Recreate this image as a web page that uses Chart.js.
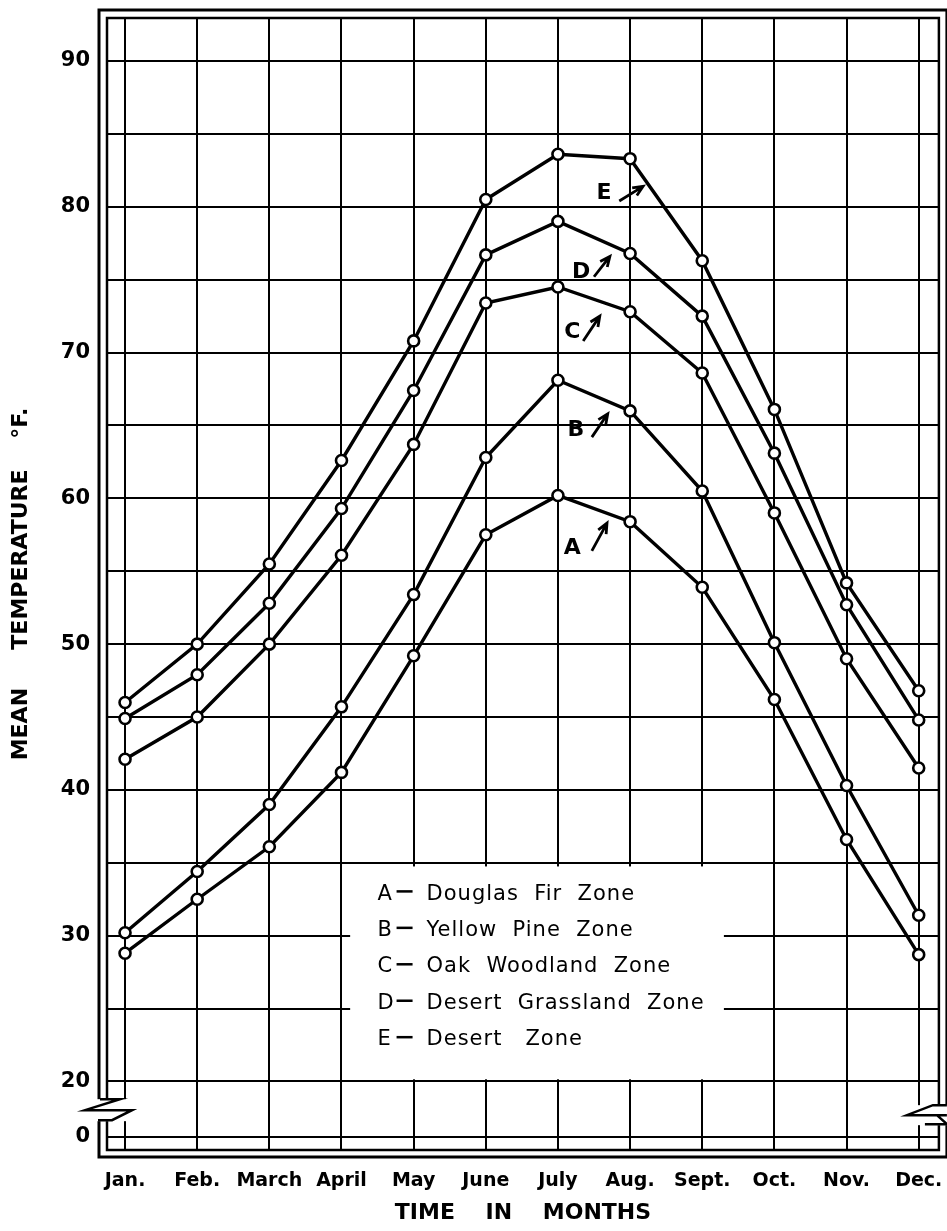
<!DOCTYPE html>
<html lang="en">
<head>
    <meta charset="UTF-8">
    <title>Mean Temperature by Vegetation Zone</title>
    <style>
        body { margin: 0; background: #fff; }
        #wrap { width: 947px; height: 1231px; position: relative; }
    </style>
    <script src="https://cdn.jsdelivr.net/npm/chart.js@4"></script>
</head>
<body>
    <div id="wrap"><canvas id="tempChart"></canvas></div>

    <script>
        // month labels on the x axis
        const months = ['Jan.', 'Feb.', 'March', 'April', 'May', 'June', 'July', 'Aug.', 'Sept.', 'Oct.', 'Nov.', 'Dec.'];

        // mean temperature, deg F
        const douglasFir      = [28.8, 32.5, 36.1, 41.2, 49.2, 57.5, 60.2, 58.4, 53.9, 46.2, 36.6, 28.7];
        const yellowPine      = [30.2, 34.4, 39.0, 45.7, 53.4, 62.8, 68.1, 66.0, 60.5, 50.1, 40.3, 31.4];
        const oakWoodland     = [42.1, 45.0, 50.0, 56.1, 63.7, 73.4, 74.5, 72.8, 68.6, 59.0, 49.0, 41.5];
        const desertGrassland = [44.9, 47.9, 52.8, 59.3, 67.4, 76.7, 79.0, 76.8, 72.5, 63.1, 52.7, 44.8];
        const desertZone      = [46.0, 50.0, 55.5, 62.6, 70.8, 80.5, 83.6, 83.3, 76.3, 66.1, 54.2, 46.8];

        const zoneLetters = ['A', 'B', 'C', 'D', 'E'];
        const zoneNames = ['Douglas  Fir  Zone', 'Yellow  Pine  Zone', 'Oak  Woodland  Zone', 'Desert  Grassland  Zone', 'Desert   Zone'];

        // y axis is broken below 20: the "0" line sits just under it
        const zeroAt = 16.2;
        const yGrid = [zeroAt, 20, 25, 30, 35, 40, 45, 50, 55, 60, 65, 70, 75, 80, 85, 90];

        // letter tags next to the curves (month index, deg F)
        const tagLetter = [[6.20, 56.6], [6.25, 64.7], [6.20, 71.4], [6.32, 75.5], [6.64, 80.9]];
        const tagArrow  = [
            [6.47, 56.4, 6.68, 58.3],
            [6.47, 64.2, 6.69, 65.8],
            [6.35, 70.8, 6.58, 72.5],
            [6.50, 75.2, 6.72, 76.6],
            [6.85, 80.4, 7.18, 81.4]
        ];

        const allSeries = [douglasFir, yellowPine, oakWoodland, desertGrassland, desertZone];

        function drawArrow(ctx, x1, y1, x2, y2) {
            const ang = Math.atan2(y2 - y1, x2 - x1);
            const h = 11;
            ctx.beginPath();
            ctx.moveTo(x1, y1);
            ctx.lineTo(x2, y2);
            ctx.moveTo(x2 - h * Math.cos(ang - 0.42), y2 - h * Math.sin(ang - 0.42));
            ctx.lineTo(x2, y2);
            ctx.lineTo(x2 - h * Math.cos(ang + 0.42), y2 - h * Math.sin(ang + 0.42));
            ctx.stroke();
        }

        const decor = {
            id: 'decor',
            beforeDatasetsDraw(chart) {
                // blank patch behind the key
                const { ctx, scales: { x, y } } = chart;
                const l = x.getPixelForValue(3.12), r = x.getPixelForValue(8.3);
                const t = y.getPixelForValue(34.75), b = y.getPixelForValue(20.15);
                ctx.save();
                ctx.fillStyle = '#fff';
                ctx.fillRect(l, t, r - l, b - t);
                ctx.restore();
            },
            afterDraw(chart) {
                const { ctx, chartArea: a, scales: { x, y } } = chart;
                ctx.save();
                ctx.strokeStyle = '#000';
                ctx.fillStyle = '#000';

                // double frame
                ctx.lineWidth = 2.5;
                ctx.strokeRect(a.left, a.top, a.right - a.left, a.bottom - a.top);
                ctx.lineWidth = 3;
                ctx.strokeRect(a.left - 8, a.top - 8, a.right - a.left + 16, a.bottom - a.top + 15);

                // axis break marks
                const by = y.getPixelForValue(18.1);
                const L = a.left, R = a.right;
                ctx.fillStyle = '#fff';
                ctx.fillRect(L - 13, by - 10, 40, 22);
                ctx.fillRect(R - 34, by - 4, 44, 20);
                ctx.fillStyle = '#000';
                ctx.lineWidth = 2.5;
                ctx.beginPath();
                ctx.moveTo(L - 7, by - 10); ctx.lineTo(L + 13, by - 10);
                ctx.lineTo(L - 22, by + 1); ctx.lineTo(L + 25, by + 1);
                ctx.lineTo(L + 5, by + 11); ctx.lineTo(L - 9, by + 11);
                ctx.stroke();
                ctx.beginPath();
                ctx.moveTo(R + 8, by - 4); ctx.lineTo(R - 6, by - 4);
                ctx.lineTo(R - 32, by + 6); ctx.lineTo(R + 8, by + 6);
                ctx.moveTo(R - 14, by + 15); ctx.lineTo(R + 8, by + 15);
                ctx.lineTo(R - 2, by + 6);
                ctx.stroke();

                // key
                ctx.font = '21px "DejaVu Sans"';
                ctx.letterSpacing = '1px';
                ctx.textBaseline = 'middle';
                const kx = x.getPixelForValue(3.5);
                zoneLetters.forEach((letter, i) => {
                    const ky = y.getPixelForValue(32.85 - i * 2.5);
                    ctx.fillText(letter, kx, ky);
                    ctx.fillRect(kx + 19, ky - 4, 16, 2.5);
                    ctx.fillText(zoneNames[i], kx + 49, ky);
                });

                // letter tags with arrows
                ctx.letterSpacing = '0px';
                ctx.font = 'bold 22px "DejaVu Sans"';
                ctx.textAlign = 'center';
                ctx.lineWidth = 2.8;
                zoneLetters.forEach((letter, i) => {
                    ctx.fillText(letter, x.getPixelForValue(tagLetter[i][0]), y.getPixelForValue(tagLetter[i][1]));
                    const ar = tagArrow[i];
                    drawArrow(ctx, x.getPixelForValue(ar[0]), y.getPixelForValue(ar[1]),
                        x.getPixelForValue(ar[2]), y.getPixelForValue(ar[3]));
                });
                ctx.restore();
            }
        };

        const datasets = allSeries.map((vals, i) => ({
            label: zoneLetters[i],
            data: vals.map((v, m) => ({ x: m, y: v })),
            borderColor: '#000',
            borderWidth: 3.4,
            pointRadius: 5.5,
            pointBorderWidth: 2.6,
            pointBackgroundColor: '#fff',
            pointBorderColor: '#000',
            tension: 0
        }));

        new Chart(document.getElementById('tempChart'), {
            type: 'line',
            data: { datasets },
            options: {
                responsive: true,
                maintainAspectRatio: false,
                animation: false,
                layout: { padding: { top: 18, right: 7, left: 0, bottom: 0 } },
                plugins: { legend: { display: false }, tooltip: { enabled: false } },
                scales: {
                    x: {
                        type: 'linear',
                        min: -0.25,
                        max: 11.28,
                        afterBuildTicks: s => { s.ticks = months.map((m, i) => ({ value: i })); },
                        afterFit: s => { s.height = 81; s.paddingLeft = 0; s.paddingRight = 0; },
                        ticks: {
                            autoSkip: false,
                            maxRotation: 0,
                            padding: 20,
                            color: '#000',
                            font: { family: 'DejaVu Sans', weight: 'bold', size: 19 },
                            callback: v => months[v]
                        },
                        grid: { color: '#000', lineWidth: 2, drawTicks: false },
                        border: { display: false },
                        title: {
                            display: true,
                            text: 'TIME    IN    MONTHS',
                            color: '#000',
                            font: { family: 'DejaVu Sans', weight: 'bold', size: 22 },
                            padding: { top: 0, bottom: 5 }
                        }
                    },
                    y: {
                        type: 'linear',
                        min: 15.3,
                        max: 92.95,
                        afterBuildTicks: s => { s.ticks = yGrid.map(v => ({ value: v })); },
                        afterFit: s => { s.width = 107; s.paddingTop = 0; s.paddingBottom = 0; },
                        ticks: {
                            padding: 17,
                            color: '#000',
                            font: { family: 'DejaVu Sans', weight: 'bold', size: 21 },
                            callback: v => v === zeroAt ? '0' : (v % 10 === 0 ? String(v) : '')
                        },
                        grid: { color: '#000', lineWidth: 2, drawTicks: false },
                        border: { display: false },
                        title: {
                            display: true,
                            text: 'MEAN     TEMPERATURE    °F.',
                            color: '#000',
                            font: { family: 'DejaVu Sans', weight: 'bold', size: 22 },
                            padding: { top: 8, bottom: 0 }
                        }
                    }
                }
            },
            plugins: [decor]
        });
    </script>
</body>
</html>
